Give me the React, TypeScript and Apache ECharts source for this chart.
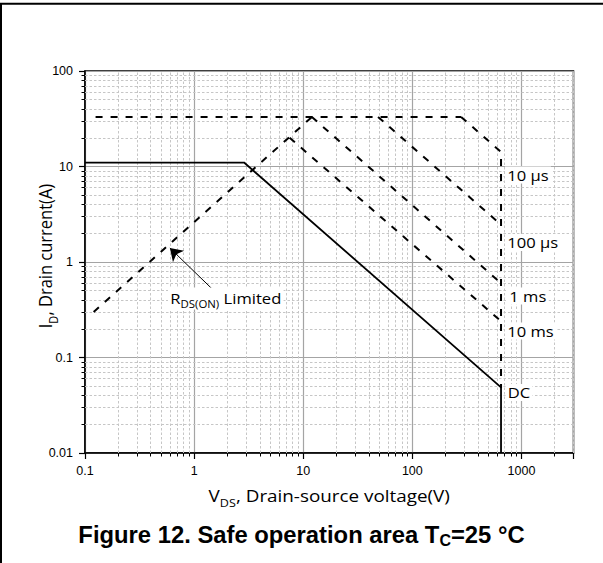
import React, { useEffect, useRef } from 'react';
import * as echarts from 'echarts';

// ---- data (V in volts, I in amperes) ----
const xRange = [0.1, 3000];
const yRange = [0.01, 100];
const dcLine = [[0.1, 11], [2.87, 11], [650, 0.0487], [650, 0.01]];
const rdsLine = [[0.12, 0.3], [12, 33]];
const pulseLimit = [[0.125, 33], [280, 33]];
const line10us = [[280, 33], [650, 14.2], [650, 0.048]];
const line100us = [[48.5, 33], [650, 2.46]];
const line1ms = [[12, 33], [650, 0.6]];
const line10ms = [[7.5, 20], [650, 0.24]];
const arrowLine = [[1.61, 0.47], [0.6, 1.4]];
const xMinorTicks = [0.2, 0.3, 0.4, 0.5, 0.6, 0.7, 0.8, 0.9, 2, 3, 4, 5, 6, 7, 8, 9, 20, 30, 40, 50, 60, 70, 80, 90, 200, 300, 400, 500, 600, 700, 800, 900, 2000, 3000];
const yMinorTicks = [0.02, 0.03, 0.04, 0.05, 0.06, 0.07, 0.08, 0.09, 0.2, 0.3, 0.4, 0.5, 0.6, 0.7, 0.8, 0.9, 2, 3, 4, 5, 6, 7, 8, 9, 20, 30, 40, 50, 60, 70, 80, 90];
const curveLabels = ['10 µs', '100 µs', '1 ms', '10 ms', 'DC'];
const titleParts = ['Figure 12. Safe operation area T', 'C', '=25 °C'];
const xNameParts = ['V', 'DS', ', Drain-source voltage(V)'];
const yNameParts = ['I', 'D', ', Drain current(A)'];
const rdsParts = ['R', 'DS(ON)', ' Limited'];

const STRETCH = 1.143;
const FIG_FONT = 'Open Sans';

const fmtDecade = (v: number) => {
  const l = Math.log10(v);
  return Math.abs(l - Math.round(l)) < 1e-6 ? String(Number(v.toPrecision(6))) : '';
};

function App() {
  const ref = useRef<HTMLDivElement>(null);

  useEffect(() => {
    if (!ref.current) return;
    const chart = echarts.init(ref.current, null, { renderer: 'svg' });

    const dashed = { color: '#000', width: 2, type: [7, 8] as any };
    const richFig = (mainSize: number, subSize: number, pad: number) => ({
      m: { fontSize: mainSize, fontFamily: FIG_FONT, fill: '#000' },
      s: { fontSize: subSize, fontFamily: FIG_FONT, fill: '#000', padding: [pad, 0, 0, 0] },
    });
    const curveLabel = (text: string, x: number, y: number) => ({
      type: 'text',
      x,
      y,
      scaleX: STRETCH,
      z: 10,
      silent: true,
      style: {
        text,
        fontSize: 14.5,
        fontFamily: FIG_FONT,
        fill: '#000',
        align: 'left',
        verticalAlign: 'middle',
        textAlign: 'left',
        textVerticalAlign: 'middle',
        backgroundColor: '#fff',
        padding: [1, 2],
      },
    });

    const xAxisMain = {
      type: 'log',
      logBase: 10,
      min: xRange[0],
      max: xRange[1],
      position: 'bottom',
      axisLine: { show: true, onZero: false, lineStyle: { color: '#000', width: 1.5 } },
      axisTick: { show: true, length: 6, lineStyle: { color: '#000', width: 1.2 } },
      axisLabel: { formatter: fmtDecade, color: '#000', fontFamily: 'Liberation Sans', fontSize: 12.5, margin: 11 },
      splitLine: { show: true, lineStyle: { color: '#a4a4a4', width: 1.2 } },
      minorTick: { show: false },
      minorSplitLine: { show: false },
    };
    const xAxisMinor = {
      type: 'log',
      logBase: 10,
      min: xRange[0],
      max: xRange[1],
      position: 'bottom',
      axisLine: { show: false, onZero: false },
      axisLabel: { show: false },
      splitLine: { show: false },
      axisTick: { show: true, length: 3.5, customValues: xMinorTicks, lineStyle: { color: '#000', width: 1 } },
    };
    const yAxisMain = {
      type: 'log',
      logBase: 10,
      min: yRange[0],
      max: yRange[1],
      position: 'left',
      axisLine: { show: true, onZero: false, lineStyle: { color: '#000', width: 1.5 } },
      axisTick: { show: true, length: 6, lineStyle: { color: '#000', width: 1.2 } },
      axisLabel: { formatter: fmtDecade, color: '#000', fontFamily: 'Liberation Sans', fontSize: 12.5, margin: 12 },
      splitLine: { show: true, lineStyle: { color: '#a4a4a4', width: 1.2 } },
      minorTick: { show: false },
      minorSplitLine: { show: false },
    };
    const yAxisMinor = {
      type: 'log',
      logBase: 10,
      min: yRange[0],
      max: yRange[1],
      position: 'left',
      axisLine: { show: false, onZero: false },
      axisLabel: { show: false },
      splitLine: { show: false },
      axisTick: { show: true, length: 3.5, customValues: yMinorTicks, lineStyle: { color: '#000', width: 1 } },
    };

    const lineSeries = (name: string, data: number[][], lineStyle: any, extra: any = {}) => ({
      type: 'line',
      name,
      data,
      xAxisIndex: 0,
      yAxisIndex: 0,
      symbol: 'none',
      showSymbol: false,
      silent: true,
      z: 5,
      lineStyle,
      ...extra,
    });

    const option: any = {
      animation: false,
      backgroundColor: '#fff',
      grid: {
        left: 85,
        top: 71,
        right: 29.5,
        bottom: 110,
        show: true,
        borderColor: '#000',
        borderWidth: 1.5,
        backgroundColor: 'transparent',
      },
      xAxis: [xAxisMain, xAxisMinor],
      yAxis: [yAxisMain, yAxisMinor],
      series: [
        {
          type: 'line',
          name: 'minor grid',
          data: [],
          xAxisIndex: 0,
          yAxisIndex: 0,
          symbol: 'none',
          silent: true,
          z: 1,
          markLine: {
            silent: true,
            symbol: ['none', 'none'],
            label: { show: false },
            emphasis: { disabled: true },
            lineStyle: { color: '#c6c6c6', width: 1, type: [2.5, 2] },
            data: [
              ...xMinorTicks.map((v) => ({ xAxis: v })),
              ...yMinorTicks.map((v) => ({ yAxis: v })),
            ],
          },
        },
        lineSeries('DC', dcLine, { color: '#000', width: 1.8 }),
        lineSeries('RDS(ON) limit', rdsLine, dashed, {
          markLine: {
            silent: true,
            symbol: ['none', 'arrow'],
            symbolSize: 12,
            label: { show: false },
            emphasis: { disabled: true },
            lineStyle: { color: '#000', width: 1, type: 'solid' },
            data: [[{ coord: arrowLine[0] }, { coord: arrowLine[1] }]],
          },
        }),
        lineSeries('Pulse limit', pulseLimit, dashed),
        lineSeries('10 µs', line10us, dashed),
        lineSeries('100 µs', line100us, dashed),
        lineSeries('1 ms', line1ms, dashed),
        lineSeries('10 ms', line10ms, dashed),
      ],
      graphic: [
        { type: 'line', z: 10, silent: true, shape: { x1: 0, y1: 3.7, x2: 603, y2: 3.7 }, style: { stroke: '#000', lineWidth: 2 } },
        { type: 'line', z: 10, silent: true, shape: { x1: 1, y1: 3, x2: 1, y2: 563 }, style: { stroke: '#000', lineWidth: 2 } },
        curveLabel(curveLabels[0], 505, 175),
        curveLabel(curveLabels[1], 505, 242.5),
        curveLabel(curveLabels[2], 507, 296),
        curveLabel(curveLabels[3], 505, 331),
        curveLabel(curveLabels[4], 505.5, 392.5),
        {
          type: 'text',
          x: 168,
          y: 298.5,
          scaleX: STRETCH,
          z: 10,
          silent: true,
          style: {
            text: `{m|${rdsParts[0]}}{s|${rdsParts[1]}}{m|${rdsParts[2]}}`,
            rich: richFig(14.5, 10, 12),
            align: 'left',
            verticalAlign: 'middle',
            textAlign: 'left',
            textVerticalAlign: 'middle',
            backgroundColor: '#fff',
            padding: [0, 2],
          },
        },
        {
          type: 'text',
          x: 329.25,
          y: 495.5,
          scaleX: STRETCH,
          z: 10,
          silent: true,
          style: {
            text: `{m|${xNameParts[0]}}{s|${xNameParts[1]}}{m|${xNameParts[2]}}`,
            rich: richFig(16.5, 11, 14),
            align: 'center',
            verticalAlign: 'middle',
            textAlign: 'center',
            textVerticalAlign: 'middle',
          },
        },
        {
          type: 'text',
          x: 45,
          y: 256,
          rotation: Math.PI / 2,
          scaleY: STRETCH,
          z: 10,
          silent: true,
          style: {
            text: `{m|${yNameParts[0]}}{s|${yNameParts[1]}}{m|${yNameParts[2]}}`,
            rich: richFig(16.5, 11, 14),
            align: 'center',
            verticalAlign: 'middle',
            textAlign: 'center',
            textVerticalAlign: 'middle',
          },
        },
        {
          type: 'text',
          x: 301.5,
          y: 534,
          z: 10,
          silent: true,
          style: {
            text: `{b|${titleParts[0]}}{c|${titleParts[1]}}{b|${titleParts[2]}}`,
            rich: {
              b: { fontSize: 23.8, fontWeight: 'bold', fontFamily: 'Liberation Sans', fill: '#000' },
              c: { fontSize: 16, fontWeight: 'bold', fontFamily: 'Liberation Sans', fill: '#000', padding: [13, 0, 0, 0] },
            },
            align: 'center',
            verticalAlign: 'middle',
            textAlign: 'center',
            textVerticalAlign: 'middle',
          },
        },
      ],
    };

    chart.setOption(option);
    return () => {
      chart.dispose();
    };
  }, []);

  return (
    <div
      ref={ref}
      style={{ position: 'fixed', left: 0, top: 0, width: 603, height: 563, background: '#fff' }}
    />
  );
}

export default App;
